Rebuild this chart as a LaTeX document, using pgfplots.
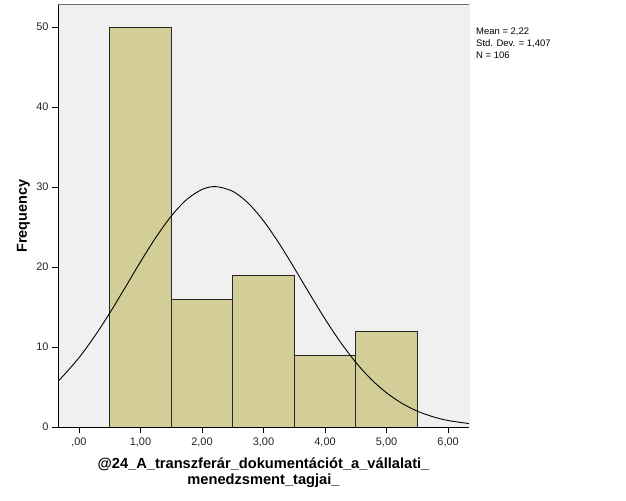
\documentclass[border=0pt]{standalone}
\usepackage{fontspec}
\setmainfont{Liberation Sans}
\usepackage{pgfplots}
\pgfplotsset{compat=1.18}
\definecolor{barfill}{RGB}{211,206,152}
\definecolor{plotbg}{RGB}{240,240,240}
\definecolor{framegray}{RGB}{110,110,110}
\begin{document}
\begin{tikzpicture}[x=1bp,y=1bp]
\path[use as bounding box, fill=white] (0,0) rectangle (626,501);
\begin{axis}[
  at={(58bp,74bp)}, anchor=south west,
  width=411bp, height=422bp, scale only axis,
  xmin=-0.34, xmax=6.34, ymin=0, ymax=52.75,
  axis x line*=bottom, axis y line*=left,
  axis line style={black, line width=0.8bp, -},
  axis background/.style={fill=plotbg},
  xtick={0,1,2,3,4,5,6},
  xticklabels={{,00},{1,00},{2,00},{3,00},{4,00},{5,00},{6,00}},
  ytick={0,10,20,30,40,50},
  tick align=outside, major tick length=6bp,
  tick style={black, line width=0.8bp},
  /pgf/number format/assume math mode=true,
  ticklabel style={font=\fontsize{11}{13}\selectfont, text=black!85},
  xticklabel style={yshift=-1bp},
  xlabel={@24\_A\_transzferár\_dokumentációt\_a\_vállalati\_\\menedzsment\_tagjai\_},
  xlabel style={at={([yshift=-31bp]axis description cs:0.5,0)}, anchor=north, inner sep=0pt, align=center, font=\bfseries\fontsize{14.7}{16}\selectfont},
  ylabel={Frequency},
  ylabel style={at={([xshift=-28bp]axis description cs:0,0.5)}, anchor=south, inner sep=0pt, font=\bfseries\fontsize{14.5}{16}\selectfont},
  clip=true,
]
\addplot[ybar interval, fill=barfill, draw=black!85, line width=0.8bp] coordinates {
  (0.5,50) (1.5,16) (2.5,19) (3.5,9) (4.5,12) (5.5,12)
};
\addplot[black, smooth, line width=0.9bp, mark=none] coordinates {
  (-0.34,5.74) (-0.25,6.44) (0,8.65) (0.25,11.28) (0.5,14.23) (0.75,17.41)
  (1.0,20.64) (1.25,23.69) (1.5,26.36) (1.75,28.42) (2.0,29.69) (2.22,30.05)
  (2.5,29.46) (2.75,27.99) (3.0,25.77) (3.25,22.99) (3.5,19.87) (3.75,16.64)
  (4.0,13.50) (4.25,10.61) (4.5,8.08) (4.75,5.96) (5.0,4.27) (5.25,2.96)
  (5.5,1.98) (5.75,1.29) (6.0,0.81) (6.34,0.43)
};
\draw[framegray, line width=1bp] (rel axis cs:0,1) -- (rel axis cs:1,1) -- (rel axis cs:1,0);
\end{axis}
\node[anchor=north west, align=left, inner sep=0pt, font=\fontsize{9.5}{11.7}\selectfont] at (476,473) {Mean = 2,22\\Std. Dev. = 1,407\\N = 106};
\end{tikzpicture}
\end{document}
